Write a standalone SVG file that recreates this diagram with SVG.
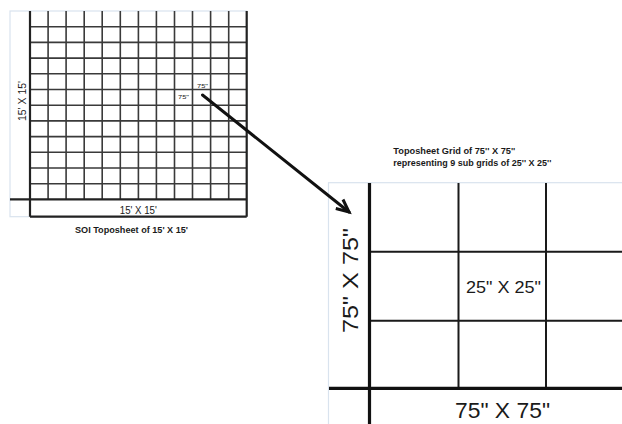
<svg xmlns="http://www.w3.org/2000/svg" width="622" height="424" viewBox="0 0 622 424">
<style>
.panel{fill:#ffffff;stroke:#d9e3ee;stroke-width:1.2}
.g{stroke:#3a3a3a;stroke-width:1.6;fill:none}
.gt{stroke:#222222;stroke-width:2.2;fill:none}
.r{stroke:#1a1a1a;stroke-width:2;fill:none}
.rt{stroke:#111111;stroke-width:3.2;fill:none}
text{font-family:"Liberation Sans",Arial,sans-serif;fill:#1a1a1a}
.b{font-weight:bold}
</style>
<defs>
<marker id="ah" markerUnits="userSpaceOnUse" markerWidth="20" markerHeight="20" viewBox="-16 -10 20 20" refX="0" refY="0" orient="auto">
<path d="M-12.5,-6 L0,0 L-12.5,5.5" fill="none" stroke="#111" stroke-width="3" stroke-linejoin="miter"/>
</marker>
</defs>
<rect width="622" height="424" fill="#ffffff"/>

<g id="soi-toposheet">
<rect class="panel" x="10" y="11" width="236.7" height="205.7"/>
<g class="g">
<path d="M48.1 11V199.3M66.1 11V199.3M84.2 11V199.3M102.2 11V199.3M120.3 11V199.3M138.4 11V199.3M156.4 11V199.3M174.5 11V199.3M192.5 11V199.3M210.6 11V199.3M228.7 11V199.3"/>
<path d="M30 26.7H246.7M30 42.4H246.7M30 58.1H246.7M30 73.8H246.7M30 89.5H246.7M30 105.2H246.7M30 120.9H246.7M30 136.6H246.7M30 152.3H246.7M30 168H246.7M30 183.7H246.7"/>
</g>
<g class="gt">
<path d="M30 11V216.7M246.7 11V216.7M10 199.4H246.7M30 216.7H246.7"/>
</g>
<text x="138.3" y="213.5" font-size="10" text-anchor="middle" textLength="37" lengthAdjust="spacingAndGlyphs">15' X 15'</text>
<text transform="translate(26,101) rotate(-90)" x="0" y="0" font-size="10.5" text-anchor="middle" textLength="40" lengthAdjust="spacingAndGlyphs">15' X 15'</text>
<text x="197" y="88" font-size="6" textLength="11" lengthAdjust="spacingAndGlyphs">75"</text>
<text x="178" y="99" font-size="6" textLength="11" lengthAdjust="spacingAndGlyphs">75"</text>
<text class="b" x="131.5" y="233" font-size="9" text-anchor="middle" textLength="113" lengthAdjust="spacingAndGlyphs">SOI Toposheet of 15' X 15'</text>
</g>

<g id="detail-grid">
<rect class="panel" x="328.5" y="182.7" width="300" height="250"/>
<g class="r">
<path d="M458.5 183V388.3M546 183V388.3M369.5 251.7H622M369.5 320.7H622"/>
</g>
<g class="rt">
<path d="M369.5 183V424M329 388.3H622"/>
</g>
<text x="503.5" y="292.5" font-size="17" text-anchor="middle" textLength="75" lengthAdjust="spacingAndGlyphs">25" X 25"</text>
<text x="502.5" y="418" font-size="22" text-anchor="middle" textLength="95" lengthAdjust="spacingAndGlyphs">75" X 75"</text>
<text transform="translate(358,280.5) rotate(-90)" x="0" y="0" font-size="22" text-anchor="middle" textLength="105" lengthAdjust="spacingAndGlyphs">75" X 75"</text>
<text class="b" x="393.3" y="154" font-size="8.5" textLength="122" lengthAdjust="spacingAndGlyphs">Toposheet Grid of 75'' X 75''</text>
<text class="b" x="393.3" y="166" font-size="8.5" textLength="158" lengthAdjust="spacingAndGlyphs">representing 9 sub grids of 25'' X 25''</text>
</g>

<g id="connectors">
<path d="M202.5 95 L349 212" fill="none" stroke="#111" stroke-width="3" stroke-linecap="round" marker-end="url(#ah)"/>
</g>
</svg>
